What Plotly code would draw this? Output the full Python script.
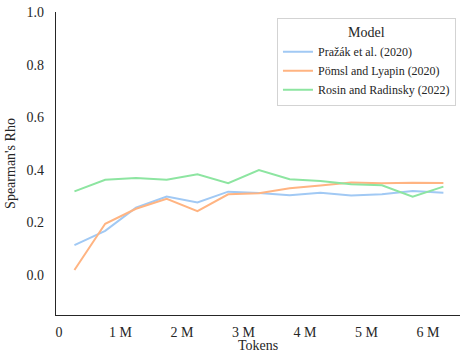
import plotly.graph_objects as go

tokens = [250000, 750000, 1250000, 1750000, 2250000, 2750000, 3250000,
          3750000, 4250000, 4750000, 5250000, 5750000, 6250000]
prazak = [0.114, 0.168, 0.256, 0.298, 0.276, 0.317, 0.312, 0.303, 0.313, 0.302, 0.307, 0.319, 0.313]
pomsl = [0.019, 0.195, 0.252, 0.290, 0.243, 0.307, 0.311, 0.330, 0.340, 0.352, 0.349, 0.351, 0.350]
rosin = [0.318, 0.362, 0.369, 0.362, 0.383, 0.349, 0.399, 0.364, 0.357, 0.345, 0.341, 0.298, 0.336]
series_names = ["Pražák et al. (2020)", "Pömsl and Lyapin (2020)", "Rosin and Radinsky (2022)"]
colors = ["#a1c9f4", "#ffb482", "#8de5a1"]
x_tickvals = [0, 1000000, 2000000, 3000000, 4000000, 5000000, 6000000]
x_ticktext = ["0", "1 M", "2 M", "3 M", "4 M", "5 M", "6 M"]
y_tickvals = [0.0, 0.2, 0.4, 0.6, 0.8, 1.0]
y_ticktext = ["0.0", "0.2", "0.4", "0.6", "0.8", "1.0"]

fig = go.Figure()
for name, vals, c in zip(series_names, [prazak, pomsl, rosin], colors):
    fig.add_trace(go.Scatter(x=tokens, y=vals, mode="lines", name=name,
                             line=dict(color=c, width=2)))

FONT = "Liberation Serif"
TXT = "#262626"
fig.update_layout(
    width=460, height=353,
    margin=dict(l=56, r=0, t=12, b=38),
    paper_bgcolor="white", plot_bgcolor="white",
    font=dict(family=FONT, size=14, color=TXT),
    showlegend=True,
    legend=dict(
        title=dict(text="Model", side="top center", font=dict(family=FONT, size=14, color=TXT)),
        x=0.99, y=0.98, xanchor="right", yanchor="top",
        bordercolor="#d3d3d3", borderwidth=1, bgcolor="white",
        font=dict(family=FONT, size=12, color=TXT), tracegroupgap=0, itemwidth=30,
    ),
    xaxis=dict(
        range=[-50000, 6520000], tickvals=x_tickvals, ticktext=x_ticktext,
        showgrid=False, zeroline=False, showline=True, linecolor="#262626", linewidth=1.3,
        ticks="outside", ticklen=4, tickcolor="white",
        title=dict(text="Tokens", font=dict(family=FONT, size=14, color=TXT), standoff=0),
        tickfont=dict(family=FONT, size=14, color=TXT),
    ),
    yaxis=dict(
        range=[-0.152, 1.0], tickvals=y_tickvals, ticktext=y_ticktext,
        showgrid=False, zeroline=False, showline=True, linecolor="#262626", linewidth=1.3,
        ticks="outside", ticklen=8, tickcolor="white",
        title=dict(text="Spearman's Rho", font=dict(family=FONT, size=14, color=TXT), standoff=7),
        tickfont=dict(family=FONT, size=14, color=TXT),
    ),
)
fig.write_html("out.html", config={"displayModeBar": False},
               post_script="document.body.style.margin='0';document.body.style.overflow='hidden';")
